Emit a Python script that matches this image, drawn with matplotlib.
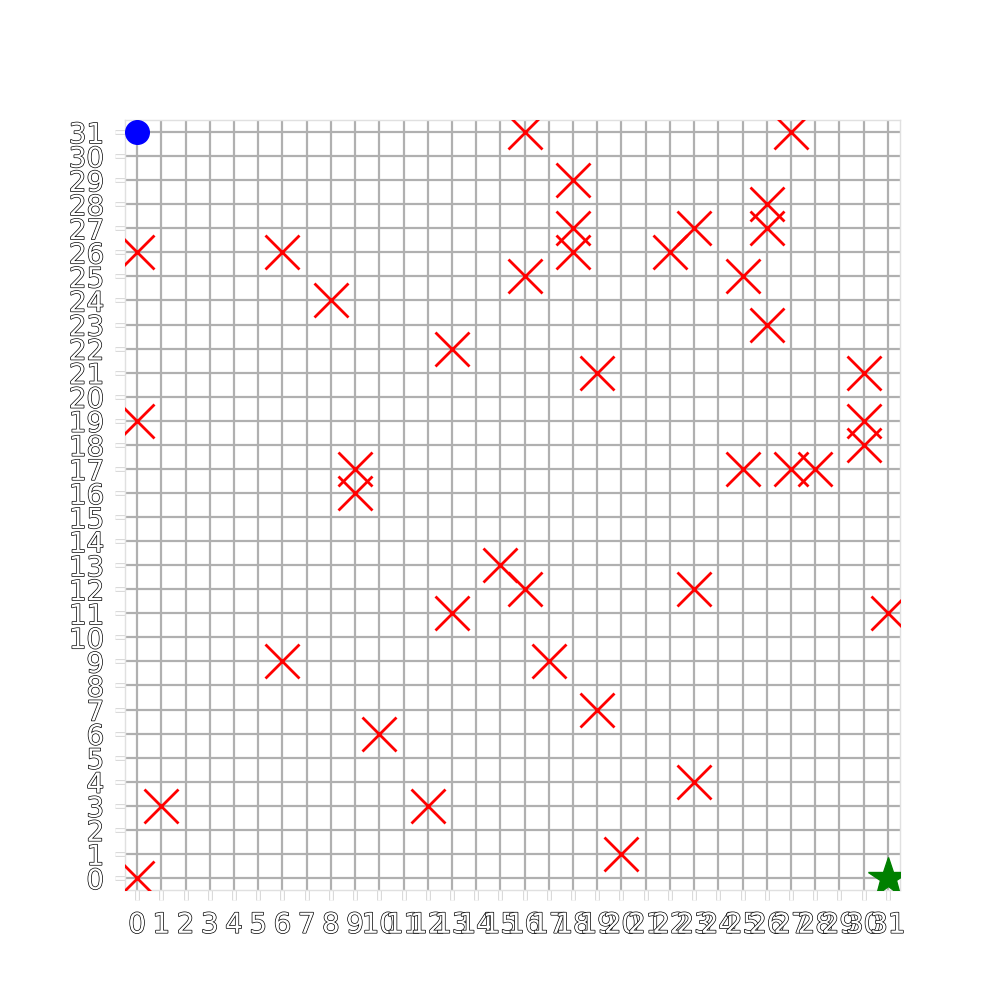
import matplotlib
matplotlib.use("Agg")
import matplotlib.pyplot as plt
import matplotlib.patheffects as pe

grid_size = 32
ticks = list(range(grid_size))

start_x = [0]
start_y = [31]
goal_x = [31]
goal_y = [0]

obstacle_x = [16, 27, 18, 18, 18, 0, 6, 16, 22, 23, 26, 26, 25, 26, 8, 13, 19, 30,
              30, 30, 0, 9, 9, 25, 27, 28, 15, 16, 23, 13, 31, 6, 17, 19, 10, 1,
              12, 23, 20, 0]
obstacle_y = [31, 31, 29, 27, 26, 26, 26, 25, 26, 27, 28, 27, 25, 23, 24, 22, 21, 21,
              19, 18, 19, 17, 16, 17, 17, 17, 13, 12, 12, 11, 11, 9, 9, 7, 6, 3,
              3, 4, 1, 0]

fig, ax = plt.subplots(figsize=(10, 10), dpi=100)

ax.set_xlim(-0.5, grid_size - 0.5)
ax.set_ylim(-0.5, grid_size - 0.5)
ax.set_xticks(ticks)
ax.set_yticks(ticks)
ax.set_xticklabels([str(t) for t in ticks])
ax.set_yticklabels([str(t) for t in ticks])

ax.grid(True, color="#b0b0b0", linewidth=1.6, zorder=0)
ax.set_axisbelow(True)

for s in ax.spines.values():
    s.set_color("#e0e0e0")
    s.set_linewidth(1.0)

ax.tick_params(axis="both", length=7, width=2, color="white", pad=8, labelsize=20)
for tl in ax.xaxis.get_ticklines() + ax.yaxis.get_ticklines():
    tl.set_path_effects([pe.withStroke(linewidth=3.5, foreground="#d8d8d8")])
for lab in ax.get_xticklabels() + ax.get_yticklabels():
    lab.set_color("white")
    lab.set_path_effects([pe.withStroke(linewidth=1.0, foreground="black")])

ax.plot(obstacle_x, obstacle_y, linestyle="none", marker="x", color="red",
        markersize=25, markeredgewidth=2.0, zorder=3)
ax.plot(start_x, start_y, linestyle="none", marker="o", color="blue",
        markersize=17, zorder=4)
ax.plot(goal_x, goal_y, linestyle="none", marker="*", color="green",
        markersize=30, zorder=4)

fig.savefig("out.png", dpi=100)
